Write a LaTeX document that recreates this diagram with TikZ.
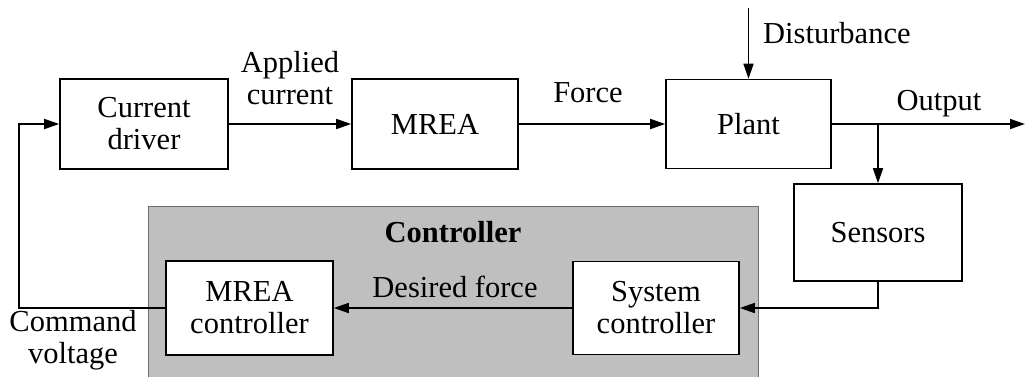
\documentclass[tikz,border=0pt]{standalone}
\usepackage{fontspec}
\setmainfont{Liberation Serif}
\usetikzlibrary{arrows.meta}
\definecolor{ctrlgray}{RGB}{191,191,191}
\definecolor{ctrledge}{RGB}{110,110,110}
\begin{document}
\begin{tikzpicture}[x=1pt,y=-1pt,
  block/.style={draw,fill=white,line width=1.6pt,align=center,inner sep=0pt},
  conn/.style={line width=1.6pt,-{Triangle[length=15pt,width=10pt]}},
  wire/.style={line width=1.6pt},
  lbl/.style={align=center,inner sep=0pt},
  font=\fontsize{30.5}{32}\selectfont]
\useasboundingbox (0,0) rectangle (1025,376);
\node[fill=ctrlgray,draw=ctrledge,line width=0.8pt,minimum width=610pt,minimum height=190pt,anchor=north west,inner sep=0pt] (ctrl) at (148,206) {};
\node[lbl,anchor=base,font=\fontsize{30.5}{32}\selectfont\bfseries] (ctrllbl) at (453,242) {Controller};

\node[block,minimum width=168pt,minimum height=90pt] (cd) at (144,124) {Current\\driver};
\node[block,minimum width=166pt,minimum height=90pt] (mrea) at (435,124) {MREA};
\node[block,minimum width=165pt,minimum height=89pt] (plant) at (748.5,124) {Plant};
\node[block,minimum width=168pt,minimum height=97pt] (sens) at (878,232.5) {Sensors};
\node[block,minimum width=167pt,minimum height=94pt] (mc) at (249.5,308) {MREA\\controller};
\node[block,minimum width=166pt,minimum height=93pt] (sc) at (656,308) {System\\controller};

\coordinate (out) at (1025,124);
\coordinate (branch) at (878,124);
\coordinate (dist) at (748.5,8);
\coordinate (sensturn) at (878,308);
\coordinate (fbturn) at (19,308);
\coordinate (fbtop) at (19,124);

\draw[conn] (cd.east) -- (mrea.west);
\draw[conn] (mrea.east) -- (plant.west);
\draw[conn] (plant.east) -- (out);
\draw[conn] (branch) -- (sens.north);
\draw[conn] (dist) -- (plant.north);
\draw[conn] (sens.south) -- (sensturn) -- (sc.east);
\draw[conn] (sc.west) -- (mc.east);
\draw[conn] (mc.west) -- (fbturn) -- (fbtop) -- (cd.west);

\node[lbl] (applied) at (290,78) {Applied\\current};
\node[lbl,anchor=base] (force) at (588,102) {Force};
\node[lbl,anchor=base] (output) at (939,110) {Output};
\node[lbl,anchor=base west] (disturb) at (763,43) {Disturbance};
\node[lbl,anchor=base] (desired) at (455,297) {Desired force};
\node[lbl] (cmd) at (73,340) {Command\\voltage};
\end{tikzpicture}
\end{document}
